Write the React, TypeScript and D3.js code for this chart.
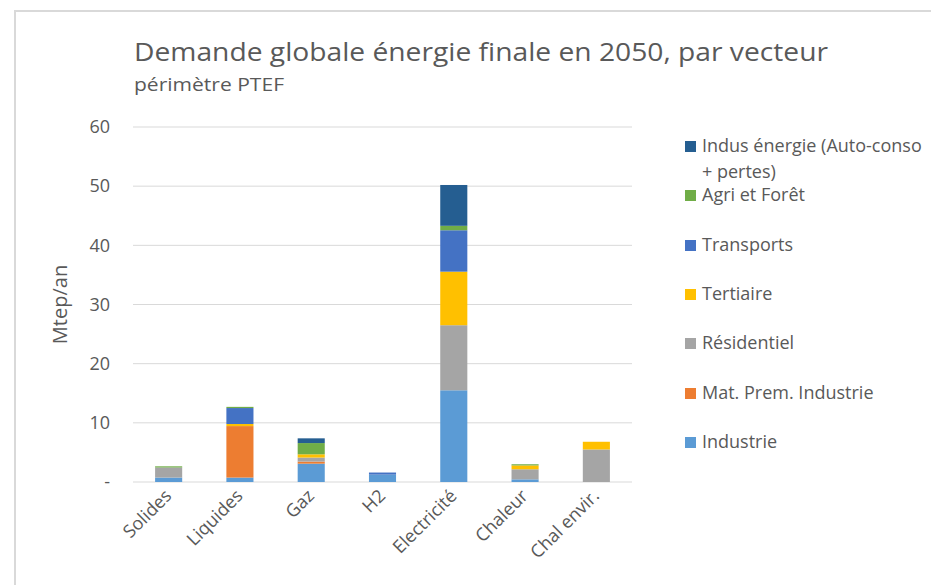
import React from "react";
import * as d3 from "d3";

const categories = ["Solides", "Liquides", "Gaz", "H2", "Electricité", "Chaleur", "Chal envir."];
const seriesNames = [
  "Industrie",
  "Mat. Prem. Industrie",
  "Résidentiel",
  "Tertiaire",
  "Transports",
  "Agri et Forêt",
  "Indus énergie (Auto-conso + pertes)",
];
const industrie = [0.75, 0.75, 3.1, 1.25, 15.5, 0.45, 0];
const matPrem = [0, 8.7, 0.35, 0, 0, 0, 0];
const residentiel = [1.7, 0, 0.68, 0, 11.0, 1.7, 5.5];
const tertiaire = [0, 0.35, 0.55, 0, 9.05, 0.65, 1.3];
const transports = [0, 2.7, 0, 0.35, 7.0, 0, 0];
const agri = [0.2, 0.2, 1.9, 0, 0.75, 0.2, 0];
const indusEnergie = [0, 0, 0.8, 0, 6.9, 0, 0];
const seriesColors = ["#5b9bd5", "#ed7d31", "#a5a5a5", "#ffc000", "#4472c4", "#70ad47", "#255e91"];
const yTicks = [0, 10, 20, 30, 40, 50, 60];

const allSeries = [industrie, matPrem, residentiel, tertiaire, transports, agri, indusEnergie];

const FONT = "'Open Sans', sans-serif";
const TXT = "#595959";

export default function App() {
  const W = 931, H = 585;
  const left = 133, right = 632, top = 127, bottom = 482;

  const x = d3.scaleBand<string>().domain(categories).range([left, right]).paddingInner(0.62).paddingOuter(0.31);
  const y = d3.scaleLinear().domain([0, 60]).range([bottom, top]);

  const table = categories.map((c, i) => {
    const row: any = { cat: c };
    seriesNames.forEach((s, k) => (row[s] = allSeries[k][i]));
    return row;
  });
  const stacked = d3.stack<any>().keys(seriesNames)(table);

  const legendOrder = [...seriesNames.keys()].reverse();
  const legendY = [146, 195, 245, 294, 343, 393, 442];

  return (
    <svg width={W} height={H} style={{ position: "absolute", left: 0, top: 0, background: "#fff" }}>
      <rect x={15} y={11} width={W} height={H} fill="#fff" stroke="#d9d9d9" strokeWidth={2} />
      <text x={134} y={61} fontFamily={FONT} fontSize={26} fill={TXT} textLength={694} lengthAdjust="spacingAndGlyphs">
        Demande globale énergie finale en 2050, par vecteur
      </text>
      <text x={134} y={91} fontFamily={FONT} fontSize={17.5} fill={TXT} textLength={150} lengthAdjust="spacingAndGlyphs">
        périmètre PTEF
      </text>

      {yTicks.map((t) => (
        <g key={t}>
          <line x1={left} x2={right} y1={y(t)} y2={y(t)} stroke="#d9d9d9" strokeWidth={1} />
          <text x={110} y={y(t)} dy="0.35em" textAnchor="end" fontFamily={FONT} fontSize={18} fill={TXT}>
            {t === 0 ? "-" : t}
          </text>
        </g>
      ))}

      <text
        transform={`translate(67, ${(top + bottom) / 2}) rotate(-90)`}
        textAnchor="middle"
        fontFamily={FONT}
        fontSize={20}
        fill={TXT}
      >
        Mtep/an
      </text>

      {stacked.map((layer, k) => (
        <g key={layer.key} fill={seriesColors[k]}>
          {layer.map((d, i) =>
            d[1] - d[0] > 0 ? (
              <rect
                key={i}
                x={x(categories[i])!}
                width={x.bandwidth()}
                y={y(d[1])}
                height={y(d[0]) - y(d[1])}
              />
            ) : null
          )}
        </g>
      ))}

      {categories.map((c) => {
        const cx = x(c)! + x.bandwidth() / 2 + 4;
        return (
          <text
            key={c}
            transform={`translate(${cx}, 497) rotate(-45)`}
            textAnchor="end"
            fontFamily={FONT}
            fontSize={18}
            fill={TXT}
          >
            {c}
          </text>
        );
      })}

      {legendOrder.map((k, j) => {
        const ly = legendY[j];
        const name = seriesNames[k];
        const lines = k === 6 ? ["Indus énergie (Auto-conso", "+ pertes)"] : [name];
        return (
          <g key={name}>
            <rect x={685} y={ly - 5} width={11} height={11} fill={seriesColors[k]} />
            {lines.map((ln, li) => (
              <text key={li} x={702} y={ly + li * 26} dy="0.35em" fontFamily={FONT} fontSize={18} fill={TXT}>
                {ln}
              </text>
            ))}
          </g>
        );
      })}
    </svg>
  );
}
